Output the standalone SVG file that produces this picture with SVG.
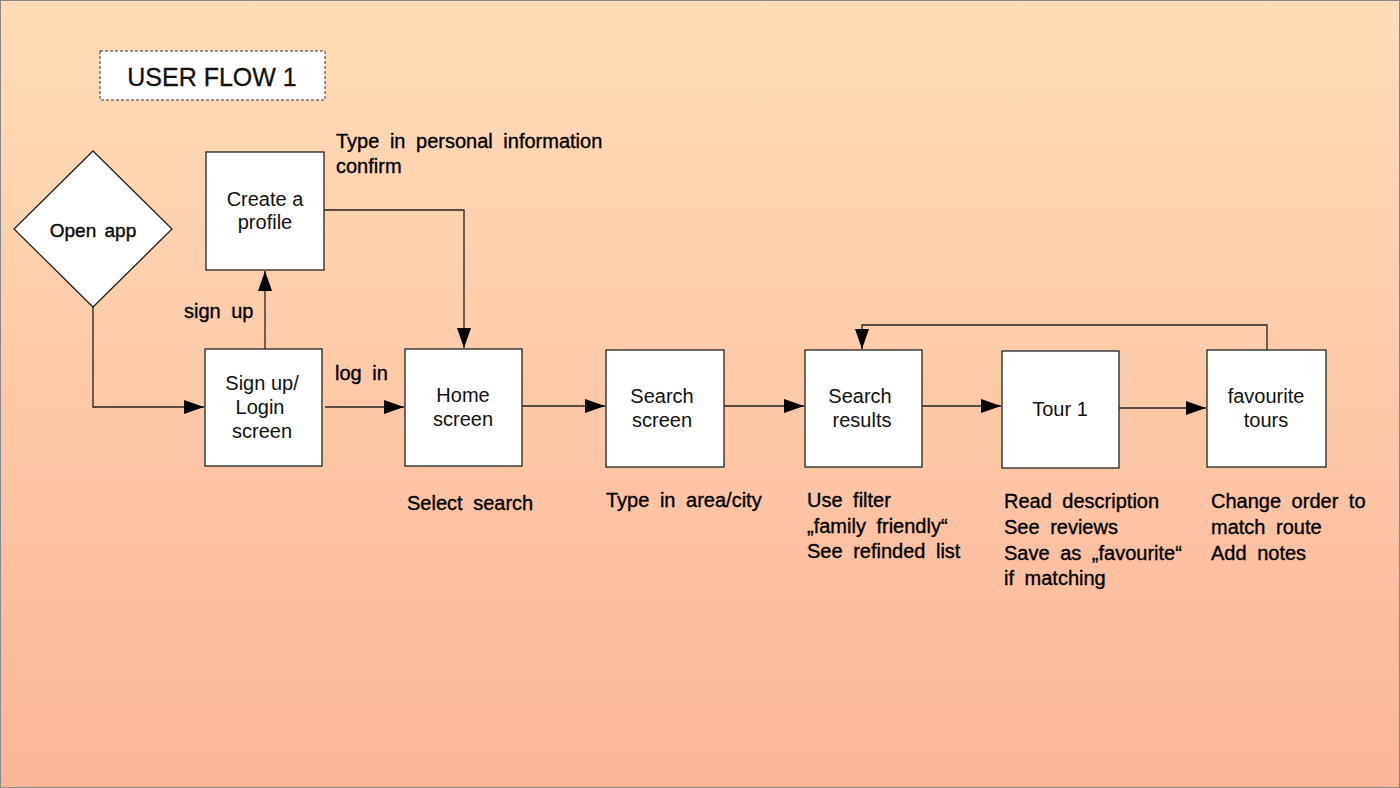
<svg xmlns="http://www.w3.org/2000/svg" width="1400" height="788" viewBox="0 0 1400 788">
<defs>
<linearGradient id="bg" x1="0" y1="0" x2="0" y2="1">
<stop offset="0" stop-color="#FEDDB8"/>
<stop offset="1" stop-color="#FDB597"/>
</linearGradient>
<marker id="arr" viewBox="0 0 20 14" refX="20" refY="7" markerWidth="20" markerHeight="14" markerUnits="userSpaceOnUse" orient="auto">
<path d="M0,0 L20,7 L0,14 Z" fill="#000"/>
</marker>
<style>
.node{fill:#fff;stroke:#222;stroke-width:1.3}
.nt{font-family:"Liberation Sans",Arial,sans-serif;font-size:20px;fill:#111;text-anchor:middle}
.lb{font-family:"Liberation Sans",Arial,sans-serif;font-size:20px;fill:#000;word-spacing:5px;stroke:#000;stroke-width:0.35}
.cn{fill:none;stroke:#222;stroke-width:1.3}
</style>
</defs>
<rect x="0.5" y="0.5" width="1399" height="787" fill="url(#bg)" stroke="#888" stroke-width="1"/>
<g id="title">
<rect x="100" y="51" width="225" height="49" fill="#fff" stroke="#333" stroke-width="1" stroke-dasharray="3,2"/>
<text x="212" y="86" style="font-family:'Liberation Sans',Arial,sans-serif;font-size:25px;fill:#111;stroke:#111;stroke-width:0.3" text-anchor="middle">USER FLOW 1</text>
</g>
<g id="connectors">
<path class="cn" d="M93,307 V407 H204" marker-end="url(#arr)"/>
<path class="cn" d="M265,349 V271" marker-end="url(#arr)"/>
<path class="cn" d="M325,407 H404" marker-end="url(#arr)"/>
<path class="cn" d="M324,210 H464 V348" marker-end="url(#arr)"/>
<path class="cn" d="M522,406 H605" marker-end="url(#arr)"/>
<path class="cn" d="M724,406 H804" marker-end="url(#arr)"/>
<path class="cn" d="M922,406 H1001" marker-end="url(#arr)"/>
<path class="cn" d="M1119,408 H1206" marker-end="url(#arr)"/>
<path class="cn" d="M1267,350 V325 H862 V349" marker-end="url(#arr)"/>
</g>
<g id="open-app">
<polygon class="node" points="93,151 172,229 93,307 14,229"/>
<text x="93" y="237" class="nt" style="font-size:19px;word-spacing:3px;stroke:#000;stroke-width:0.4">Open app</text>
</g>
<g id="create-profile">
<rect class="node" x="206" y="152" width="118" height="118"/>
<text class="nt" x="265" y="206">Create a</text>
<text class="nt" x="265" y="229">profile</text>
</g>
<g id="signup-login">
<rect class="node" x="205" y="349" width="117" height="117"/>
<text class="nt" x="262" y="390">Sign up/</text>
<text class="nt" x="260" y="414">Login</text>
<text class="nt" x="262" y="438">screen</text>
</g>
<g id="home-screen">
<rect class="node" x="405" y="349" width="117" height="117"/>
<text class="nt" x="463" y="402">Home</text>
<text class="nt" x="463" y="426">screen</text>
</g>
<g id="search-screen">
<rect class="node" x="606" y="350" width="118" height="117"/>
<text class="nt" x="662" y="403">Search</text>
<text class="nt" x="662" y="427">screen</text>
</g>
<g id="search-results">
<rect class="node" x="805" y="350" width="117" height="117"/>
<text class="nt" x="860" y="403">Search</text>
<text class="nt" x="862" y="427">results</text>
</g>
<g id="tour-1">
<rect class="node" x="1002" y="351" width="117" height="117"/>
<text class="nt" x="1060" y="416">Tour 1</text>
</g>
<g id="favourite-tours">
<rect class="node" x="1207" y="350" width="119" height="117"/>
<text class="nt" x="1266" y="403">favourite</text>
<text class="nt" x="1266" y="427">tours</text>
</g>
<g id="labels">
<text class="lb" x="336" y="148">Type in personal information</text>
<text class="lb" x="336" y="173">confirm</text>
<text class="lb" x="184" y="318">sign up</text>
<text class="lb" x="335" y="380">log in</text>
<text class="lb" x="407" y="510">Select search</text>
<text class="lb" x="606" y="507">Type in area/city</text>
<text class="lb" x="807" y="507">Use filter</text>
<text class="lb" x="807" y="533">„family friendly“</text>
<text class="lb" x="807" y="558">See refinded list</text>
<text class="lb" x="1004" y="508">Read description</text>
<text class="lb" x="1004" y="534">See reviews</text>
<text class="lb" x="1004" y="560">Save as „favourite“</text>
<text class="lb" x="1004" y="585">if matching</text>
<text class="lb" x="1211" y="508">Change order to</text>
<text class="lb" x="1211" y="534">match route</text>
<text class="lb" x="1211" y="560">Add notes</text>
</g>
</svg>
